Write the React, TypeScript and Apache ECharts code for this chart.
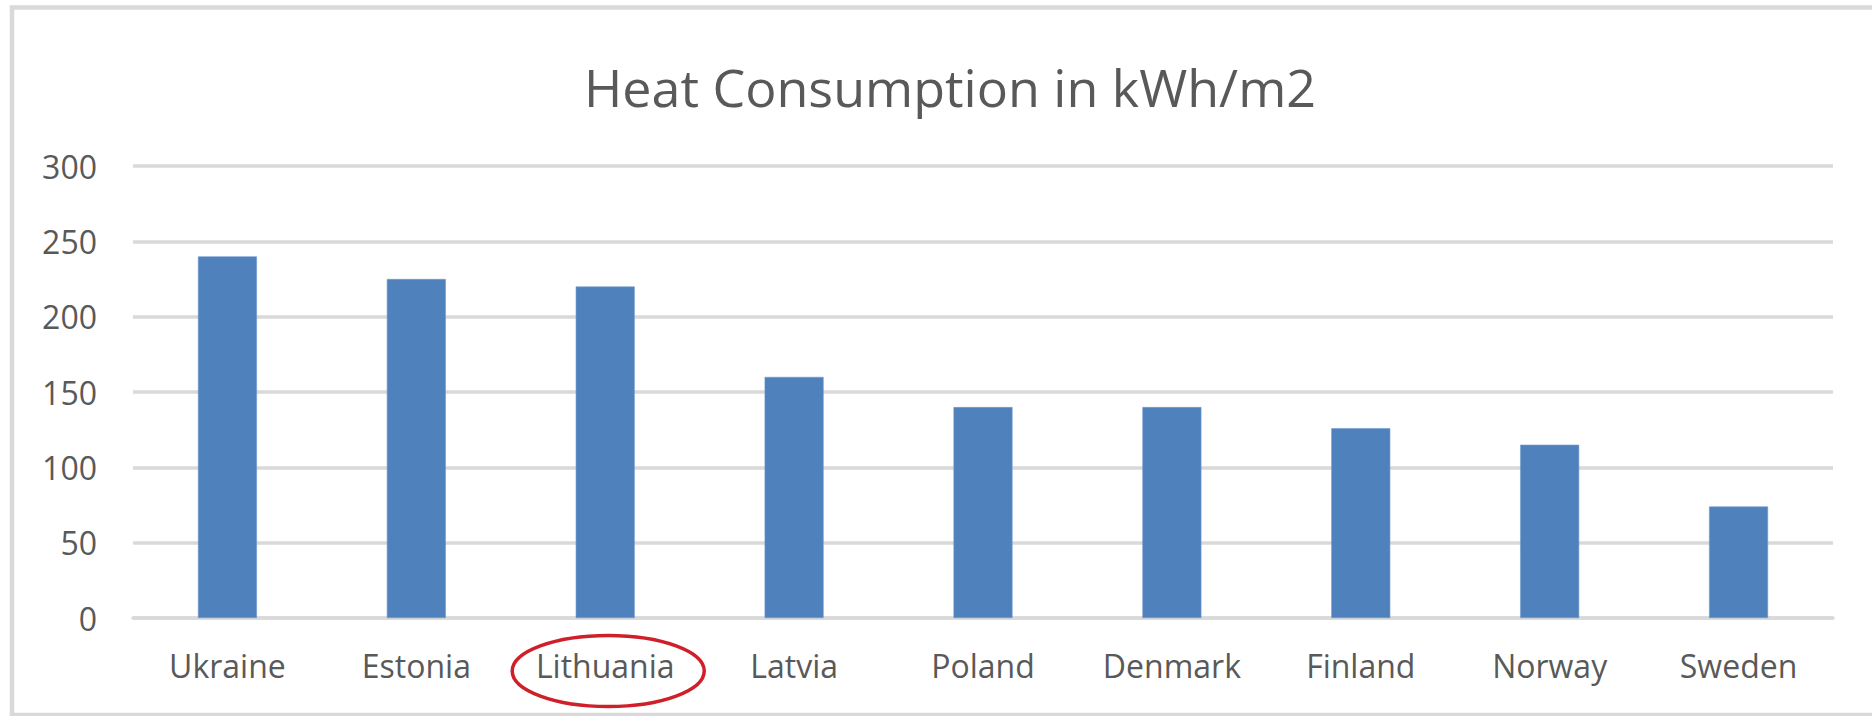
import React, { useEffect, useRef } from "react";
import * as echarts from "echarts";

const categories = ["Ukraine", "Estonia", "Lithuania", "Latvia", "Poland", "Denmark", "Finland", "Norway", "Sweden"];
const heatValues = [240, 225, 220, 160, 140, 140, 126, 115, 74];
const yTicks = { min: 0, max: 300, interval: 50 };
const titleText = "Heat Consumption in kWh/m2";
const highlighted = "Lithuania";

const FONT = "'Open Sans', 'Noto Sans', sans-serif";
const TEXT = "#595959";
const GRID = "#d9d9d9";

export default function App() {
  const ref = useRef<HTMLDivElement>(null);
  useEffect(() => {
    document.body.style.margin = "0";
    const chart = echarts.init(ref.current!, null, { renderer: "svg" });
    chart.setOption({
      animation: false,
      backgroundColor: "#ffffff",
      title: {
        text: titleText,
        left: 945,
        top: 55,
        textAlign: "center",
        textStyle: { fontFamily: FONT, fontSize: 52, fontWeight: "normal", color: TEXT, lineHeight: 52 },
      },
      grid: { left: 133, right: 39, top: 166, bottom: 98, containLabel: false },
      xAxis: {
        type: "category",
        data: categories,
        axisLine: { show: true, lineStyle: { color: GRID, width: 3.5 } },
        axisTick: { show: false },
        axisLabel: { fontFamily: FONT, fontSize: 32, color: TEXT, margin: 31, lineHeight: 32, interval: 0 },
      },
      yAxis: {
        type: "value",
        min: yTicks.min,
        max: yTicks.max,
        interval: yTicks.interval,
        axisLine: { show: false },
        axisTick: { show: false },
        splitLine: { show: true, lineStyle: { color: GRID, width: 3.5 } },
        axisLabel: { fontFamily: FONT, fontSize: 32, color: TEXT, margin: 36 },
      },
      series: [
        {
          type: "bar",
          data: heatValues,
          barWidth: 59,
          itemStyle: { color: "#4f81bd", borderColor: "#6f9bd0", borderWidth: 0.6 },
        },
      ],
    });
    const cx = chart.convertToPixel({ xAxisIndex: 0 }, highlighted) as number;
    chart.setOption({
      graphic: [
        {
          type: "polyline",
          silent: true,
          shape: { points: [[1900, 7.5], [12, 7.5], [12, 715], [1900, 715]] },
          style: { fill: "none", stroke: GRID, lineWidth: 4.5 },
        },
        {
          type: "ellipse",
          silent: true,
          shape: { cx: cx + 3, cy: 671, rx: 96, ry: 35.5 },
          style: { fill: "none", stroke: "#cf1f28", lineWidth: 3.5 },
        },
      ],
    });
    return () => chart.dispose();
  }, []);
  return <div ref={ref} style={{ width: 1872, height: 716 }} />;
}
